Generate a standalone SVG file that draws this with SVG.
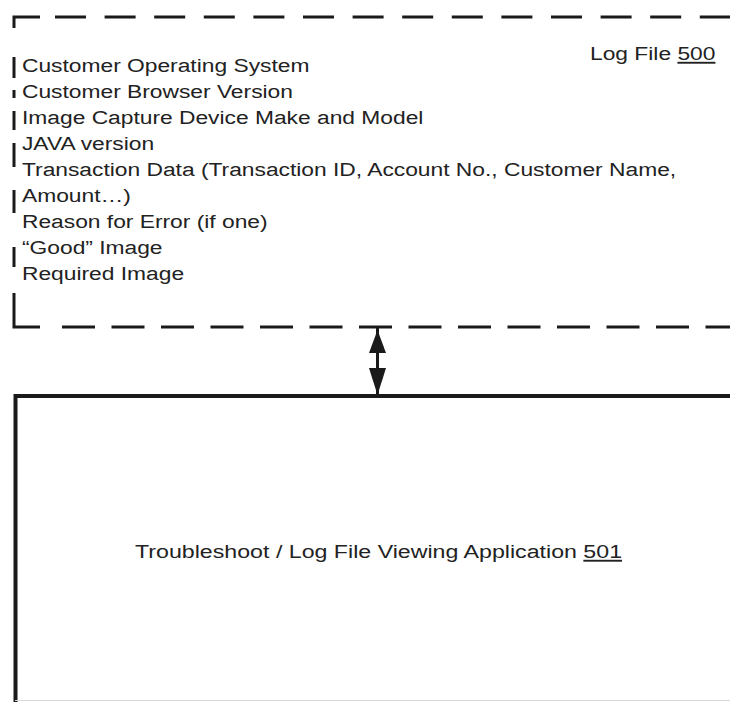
<svg xmlns="http://www.w3.org/2000/svg" width="730" height="702" viewBox="0 0 730 702">
  <style>
    .dash { fill: none; stroke: #1a1a1a; stroke-width: 3; }
    .solid { fill: none; stroke: #1a1a1a; stroke-width: 4; }
    .txt { font-family: "Liberation Sans", Arial, sans-serif; font-size: 19px; fill: #222; }
    .ul { text-decoration: underline; }
  </style>

  <!-- Log file: dashed frame, open to the right -->
  <g id="log-file">
    <!-- corners -->
    <path class="dash" d="M14,28 V17 H40"/>
    <path class="dash" d="M14,305 V327 H40"/>
    <!-- top and bottom runs -->
    <path class="dash" d="M55,17 H730" stroke-dasharray="31 18.6"/>
    <path class="dash" d="M62,327 H730" stroke-dasharray="33 16.5"/>
    <!-- left side -->
    <path class="dash" d="M14,57 V78 M14,90 V98 M14,111 V130 M14,143 V167 M14,190 V213 M14,247 V267 M14,293 V305"/>
    <g class="txt" transform="scale(1.2 1)">
      <text x="18.33" y="72">Customer Operating System</text>
      <text x="18.33" y="98">Customer Browser Version</text>
      <text x="18.33" y="124">Image Capture Device Make and Model</text>
      <text x="18.33" y="150">JAVA version</text>
      <text x="18.33" y="176">Transaction Data (Transaction ID, Account No., Customer Name,</text>
      <text x="18.33" y="202">Amount…)</text>
      <text x="18.33" y="228">Reason for Error (if one)</text>
      <text x="18.33" y="254">“Good” Image</text>
      <text x="18.33" y="280">Required Image</text>
      <text x="491.7" y="60">Log File <tspan class="ul">500</tspan></text>
    </g>
  </g>

  <!-- Viewing application box, extends past right and bottom edges -->
  <g id="viewer-app">
    <path class="solid" d="M15.5,702 V396 H732"/>
    <line x1="15" y1="700.5" x2="730" y2="700.5" stroke="#d8d8d8" stroke-width="1"/>
    <g class="txt" transform="scale(1.22 1)">
      <text x="110.7" y="558">Troubleshoot / Log File Viewing Application <tspan class="ul">501</tspan></text>
    </g>
  </g>

  <!-- two-way link between log file and viewer -->
  <g id="connectors">
    <line x1="377.5" y1="328" x2="377.5" y2="395" stroke="#1a1a1a" stroke-width="3"/>
    <path d="M377.5,330 L369,353 L386,353 Z" fill="#1a1a1a"/>
    <path d="M377.5,395 L369,368 L386,368 Z" fill="#1a1a1a"/>
  </g>
</svg>
